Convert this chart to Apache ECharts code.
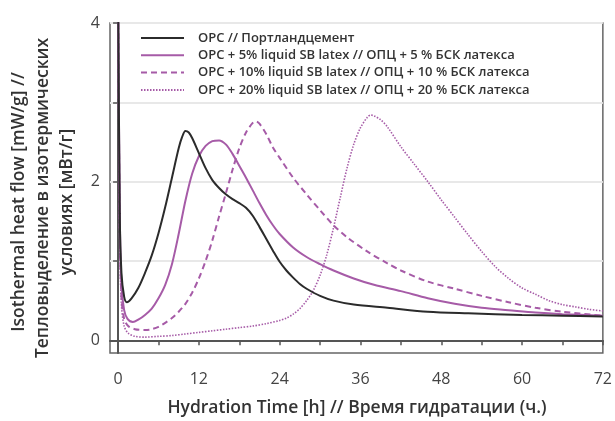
<!DOCTYPE html>
<html>
<head>
<meta charset="utf-8">
<script src="https://cdn.jsdelivr.net/npm/echarts@6/dist/echarts.min.js"></script>
<style>
html,body{margin:0;padding:0;background:#fff;}
#chart{width:615px;height:421px;}
</style>
</head>
<body>
<div id="chart"></div>
<script>
// ---- data ----
var seriesNames = [
  'OPC // Портландцемент',
  'OPC + 5% liquid SB latex // ОПЦ + 5 % БСК латекса',
  'OPC + 10% liquid SB latex // ОПЦ + 10 % БСК латекса',
  'OPC + 20% liquid SB latex // ОПЦ + 20 % БСК латекса'
];
var opcX = [0,0.25,0.5,0.9,1.3,2,3,4,5,6,7,8,9,9.5,10,10.5,11,12,13,14,15,16,17,18,19,20,21,22,23,24,25,26,27,28,30,32,35,40,46,52,60,66,72];
var opcY = [4.5,1.6,0.85,0.55,0.48,0.53,0.66,0.85,1.07,1.35,1.68,2.05,2.42,2.56,2.64,2.62,2.55,2.36,2.17,2.02,1.92,1.84,1.78,1.73,1.67,1.57,1.43,1.28,1.13,0.99,0.88,0.79,0.71,0.65,0.56,0.5,0.45,0.41,0.36,0.34,0.32,0.31,0.3];
var latex5X = [0,0.25,0.5,0.9,1.4,2.2,3,4,5,6,7,8,9,10,11,12,13,14,15,16,17,18,19,20,21,22,23,24,26,28,30,32,35,38,42,46,50,54,58,62,66,72];
var latex5Y = [4.5,1.6,0.7,0.38,0.27,0.23,0.26,0.32,0.4,0.53,0.7,0.96,1.34,1.76,2.1,2.32,2.45,2.51,2.52,2.47,2.35,2.2,2.05,1.89,1.73,1.58,1.45,1.34,1.17,1.05,0.96,0.88,0.78,0.7,0.62,0.53,0.46,0.41,0.38,0.35,0.33,0.31];
var latex10X = [0,0.25,0.5,0.9,1.5,2.5,4,5,6,7,8,9,10,11,12,13,14,15,16,17,18,19,20,20.5,21,22,23,24,26,28,30,32,34,37,40,42,46,50,54,58,62,66,72];
var latex10Y = [4.5,1.4,0.55,0.27,0.18,0.14,0.13,0.14,0.17,0.22,0.28,0.36,0.46,0.6,0.78,1.0,1.26,1.56,1.85,2.15,2.42,2.62,2.74,2.76,2.73,2.6,2.43,2.3,2.05,1.84,1.64,1.45,1.3,1.12,0.97,0.88,0.74,0.65,0.56,0.48,0.41,0.36,0.31];
var latex20X = [0,0.25,0.5,0.9,1.5,2.5,4,6,8,10,12,14,16,18,20,22,24,25,26,27,28,29,30,31,32,33,34,35,36,37,37.5,38,39,40,42,44,46,48,50,52,54,56,58,60,62,64,66,68,70,72];
var latex20Y = [4.5,1.3,0.45,0.18,0.09,0.05,0.04,0.05,0.06,0.08,0.1,0.12,0.14,0.16,0.18,0.21,0.25,0.28,0.33,0.4,0.5,0.63,0.82,1.08,1.42,1.8,2.17,2.47,2.68,2.81,2.84,2.83,2.78,2.69,2.44,2.22,2.0,1.77,1.55,1.33,1.12,0.93,0.78,0.66,0.58,0.5,0.45,0.42,0.39,0.37];
var xTicks = [0,6,12,18,24,30,36,42,48,54,60,66,72];
var xLabels = [0,12,24,36,48,60,72];
var yTicks = [0,1,2,3,4];
var yLabels = [0,2,4];
var yTitleLines = ['Isothermal heat flow [mW/g] //','Тепловыделение в изотермических','условиях [мВт/г]'];
var xTitle = 'Hydration Time [h] // Время гидратации (ч.)';

function pairs(xs, ys){ return xs.map(function(x,i){ return [x, ys[i]]; }); }

var BLACK = '#2b2b2b';
var PURPLE = '#a65ba7';
var FONT = '"Open Sans", "Noto Sans", sans-serif';

var chart = echarts.init(document.getElementById('chart'), null, {renderer:'canvas'});
var baseLine = {type:'line', showSymbol:false, symbol:'none', smooth:0.3, clip:true, z:3};
var option = {
  animation:false,
  backgroundColor:'#fff',
  textStyle:{fontFamily:FONT},
  grid:{left:110, right:11, top:23, bottom:68, show:true, borderColor:'#666', borderWidth:1.5, backgroundColor:'transparent'},
  legend:{
    orient:'vertical', left:140, top:31, padding:0, itemWidth:43, itemHeight:14, itemGap:3.3,
    itemStyle:{opacity:0},
    textStyle:{fontFamily:FONT, fontSize:13, lineHeight:14, fontWeight:600, color:'#333', padding:[0,0,0,9]},
    data:seriesNames
  },
  xAxis:{
    type:'value', min:-1.2, max:72,
    axisLine:{show:true, lineStyle:{color:'#555', width:2}},
    axisTick:{show:true, length:5, customValues:xTicks, lineStyle:{color:'#555', width:1.5}},
    axisLabel:{customValues:xLabels, color:'#444', fontSize:16, margin:18, fontFamily:FONT},
    splitLine:{show:false}
  },
  yAxis:{
    type:'value', min:-0.16, max:4,
    axisLine:{show:true, lineStyle:{color:'#555', width:2}},
    axisTick:{show:true, length:5, customValues:yTicks, lineStyle:{color:'#555', width:1.5}},
    axisLabel:{customValues:yLabels, color:'#444', fontSize:16, margin:10, fontFamily:FONT},
    splitLine:{show:true, lineStyle:{color:'#e8e8e8', width:2}}
  },
  graphic:[
    {type:'text', x:19, y:202, rotation:Math.PI/2, style:{text:yTitleLines[0], fill:'#333', font:'600 17.5px '+FONT, textAlign:'center', textVerticalAlign:'middle'}},
    {type:'text', x:43, y:198, rotation:Math.PI/2, style:{text:yTitleLines[1], fill:'#333', font:'600 17.5px '+FONT, textAlign:'center', textVerticalAlign:'middle'}},
    {type:'text', x:67, y:202, rotation:Math.PI/2, style:{text:yTitleLines[2], fill:'#333', font:'600 17.5px '+FONT, textAlign:'center', textVerticalAlign:'middle'}},
    {type:'text', x:357, y:408, style:{text:xTitle, fill:'#333', font:'600 17.5px '+FONT, textAlign:'center', textVerticalAlign:'middle'}}
  ],
  series:[
    Object.assign({}, baseLine, {name:seriesNames[0], data:pairs(opcX,opcY), lineStyle:{color:BLACK, width:2}, itemStyle:{color:BLACK}, z:4}),
    Object.assign({}, baseLine, {name:seriesNames[1], data:pairs(latex5X,latex5Y), lineStyle:{color:PURPLE, width:2}, itemStyle:{color:PURPLE}}),
    Object.assign({}, baseLine, {name:seriesNames[2], data:pairs(latex10X,latex10Y), lineStyle:{color:PURPLE, width:2, type:[6,4]}, itemStyle:{color:PURPLE}}),
    Object.assign({}, baseLine, {name:seriesNames[3], data:pairs(latex20X,latex20Y), lineStyle:{color:PURPLE, width:1.6, type:[1.5,1.5]}, itemStyle:{color:PURPLE}})
  ]
};
chart.setOption(option);
</script>
</body>
</html>
